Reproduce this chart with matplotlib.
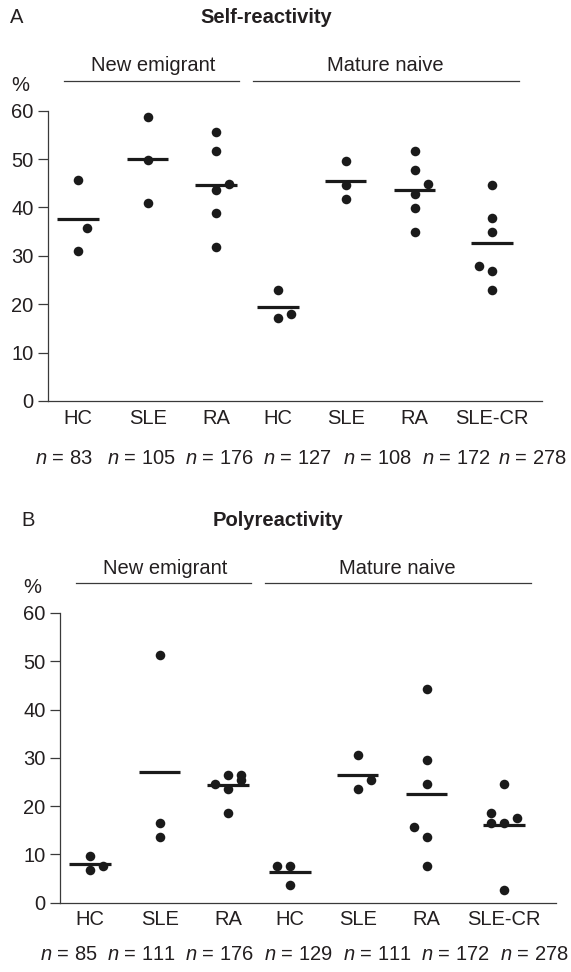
import numpy as np
import matplotlib
matplotlib.use("Agg")
import matplotlib.pyplot as plt

# ============================================================
# DATA
# ============================================================

groups = ["HC", "SLE", "RA", "HC", "SLE", "RA", "SLE-CR"]

# Self-reactivity (%), one list per group
self_vals = [
    [45.7, 35.8, 30.9],
    [58.8, 49.8, 40.9],
    [55.7, 51.7, 43.6, 44.8, 38.8, 31.9],
    [23.0, 17.1, 18.0],
    [49.7, 44.6, 41.8],
    [51.7, 47.8, 44.9, 42.8, 39.8, 34.9],
    [44.7, 37.8, 34.9, 28.0, 26.9, 22.9],
]
self_side = [
    [0, 0.7, 0],
    [0, 0, 0],
    [0, 0, 0, 1, 0, 0],
    [0, 0, 1],
    [0, 0, 0],
    [0, 0, 1, 0, 0, 0],
    [0, 0, 0, -1, 0, 0],
]
self_mean = [37.6, 50.0, 44.6, 19.4, 45.5, 43.7, 32.6]
self_n = [83, 105, 176, 127, 108, 172, 278]

# Polyreactivity (%)
poly_vals = [
    [9.7, 6.7, 7.6],
    [51.2, 16.6, 13.6],
    [26.4, 26.4, 25.5, 24.6, 23.5, 18.5],
    [7.6, 7.6, 3.7],
    [30.5, 25.5, 23.5],
    [44.2, 29.5, 24.5, 15.6, 13.6, 7.6],
    [24.5, 18.5, 16.6, 16.6, 17.6, 2.6],
]
poly_side = [
    [0, 0, 1],
    [0, 0, 0],
    [0, 1, 1, -1, 0, 0],
    [-1, 0, 0],
    [0, 1, 0],
    [0, 0, 0, -1, 0, 0],
    [0, -1, -1, 0, 1, 0],
]
poly_mean = [8.0, 27.1, 24.3, 6.3, 26.5, 22.6, 16.0]
poly_n = [85, 111, 176, 129, 111, 172, 278]

# ============================================================
# STYLE
# ============================================================

plt.rcParams["font.family"] = ["Liberation Sans", "DejaVu Sans"]
plt.rcParams["mathtext.fontset"] = "custom"
plt.rcParams["mathtext.rm"] = "Liberation Sans"
plt.rcParams["mathtext.it"] = "Liberation Sans:italic"

TXT = "#231f20"
AXC = "#3a3a3a"
FS = 14.5
W, H = 571, 972

# category x positions (slightly uneven in the original)
xpos = np.array([0, 1.01, 2.0, 2.9, 3.88, 4.88, 6.0])
JIT = 0.19


def draw_panel(ax, vals, side, means, nvals, letter, title, n_left, n_y):
    for i, (v, s) in enumerate(zip(vals, side)):
        x = xpos[i] + JIT * np.array(s)
        ax.plot(x, v, "o", color="#1a1a1a", ms=6.9, mec="none", zorder=3)
        ax.plot([xpos[i] - 0.3, xpos[i] + 0.3], [means[i]] * 2,
                color="#1a1a1a", lw=2.3, solid_capstyle="butt", zorder=2)

    ax.set_ylim(0, 60)
    ax.set_yticks(range(0, 61, 10))
    ax.set_xticks(xpos)
    ax.set_xticklabels(groups)
    for side_ in ["top", "right"]:
        ax.spines[side_].set_visible(False)
    for side_ in ["left", "bottom"]:
        ax.spines[side_].set_color(AXC)
        ax.spines[side_].set_linewidth(0.9)
    ax.tick_params(axis="y", length=7, width=0.9, color=AXC, pad=3.5,
                   labelsize=FS, labelcolor=TXT)
    ax.tick_params(axis="x", length=0, pad=5.5, labelsize=FS, labelcolor=TXT)

    # headers above the plot
    ax.text(-0.99, 79.2, letter, fontsize=FS, color=TXT, ha="left", va="center",
            clip_on=False)
    ax.text(2.73, 79.2, title, fontsize=FS, color=TXT, ha="center", va="center",
            fontweight="bold", clip_on=False)
    ax.text(-0.84, 65.2, "%", fontsize=FS, color=TXT, ha="center", va="center",
            clip_on=False)
    ax.plot([-0.2, 2.33], [66.2, 66.2], color=AXC, lw=0.9, clip_on=False)
    ax.plot([2.54, 6.39], [66.2, 66.2], color=AXC, lw=0.9, clip_on=False)
    ax.text(1.09, 69.3, "New emigrant", fontsize=FS, color=TXT, ha="center",
            va="center", clip_on=False)
    ax.text(4.46, 69.3, "Mature naive", fontsize=FS, color=TXT, ha="center",
            va="center", clip_on=False)

    # n = ... row (figure pixel positions)
    for xl, n in zip(n_left, nvals):
        fig.text(xl / W, 1 - n_y / H, r"$n$ = %d" % n, fontsize=FS, color=TXT,
                 ha="left", va="center")


fig = plt.figure(figsize=(W / 100, H / 100), dpi=100)

ax_a = fig.add_axes([48 / W, 1 - 401 / H, 494 / W, 290.3 / H])
ax_a.set_xlim(-0.435, 6.725)
draw_panel(ax_a, self_vals, self_side, self_mean, self_n, "A", "Self-reactivity",
           [35, 107, 185, 263, 343, 422, 498], 459)

ax_b = fig.add_axes([60 / W, 1 - 902.7 / H, 496 / W, 289.7 / H])
ax_b.set_xlim(-0.435, 6.754)
draw_panel(ax_b, poly_vals, poly_side, poly_mean, poly_n, "B", "Polyreactivity",
           [40, 107, 185, 264, 343, 421, 500], 954)

fig.savefig("out.png", dpi=100)
